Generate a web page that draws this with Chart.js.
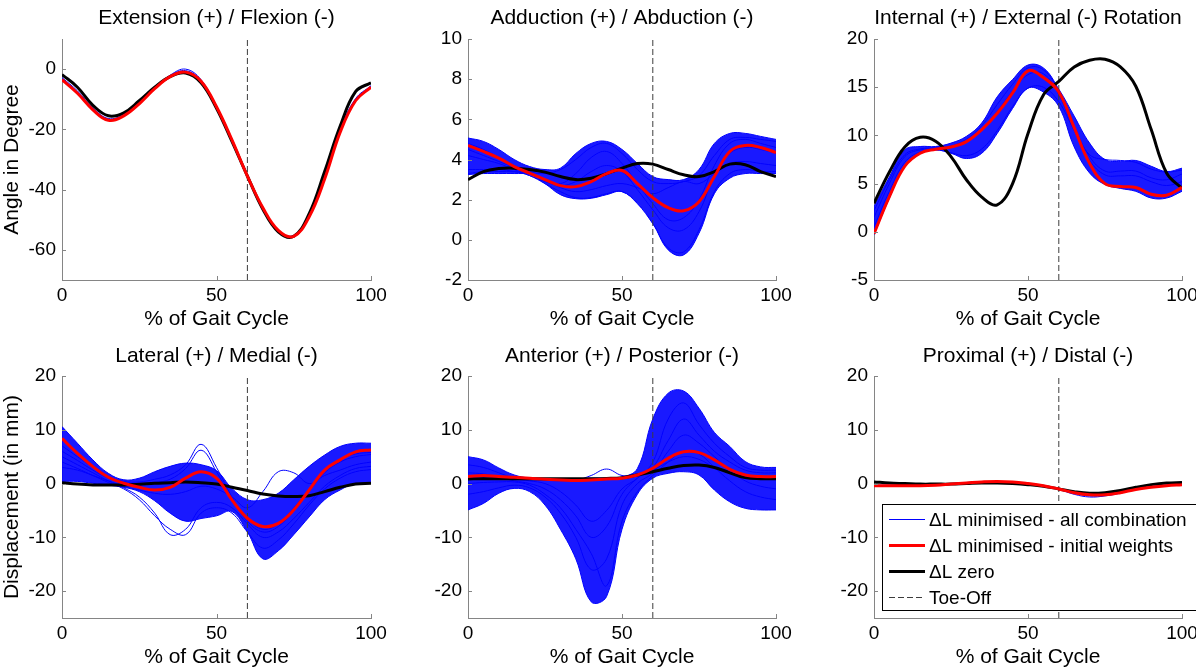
<!DOCTYPE html>
<html>
<head>
<meta charset="utf-8">
<script src="https://cdn.jsdelivr.net/npm/chart.js@4.4.0/dist/chart.umd.min.js"></script>
<style>
  html, body { margin: 0; padding: 0; background: #fff; overflow: hidden; width: 1196px; height: 671px; }
  canvas { position: absolute; }
</style>
</head>
<body>
<canvas id="c0"></canvas>
<canvas id="c1"></canvas>
<canvas id="c2"></canvas>
<canvas id="c3"></canvas>
<canvas id="c4"></canvas>
<canvas id="c5"></canvas>
<script>
// ---- data (every 5 % of gait cycle) ----
const gaitPct = [0,5,10,15,20,25,30,35,40,45,50,55,60,65,70,75,80,85,90,95,100];
const xTicks = [0, 50, 100];
const toeOff = 60;
const legendLabels = ['\u0394L minimised - all combination', '\u0394L minimised - initial weights', '\u0394L zero', 'Toe-Off'];

// Extension (+) / Flexion (-)
const extRed   = [-3.5,-8,-13.5,-17,-15.5,-11.5,-6.5,-2.5,-1,-4,-12.5,-23.5,-35.5,-46,-53.5,-55.5,-49,-36.5,-21,-10.5,-6];
const extBlack = [-1.8,-6,-12,-15.5,-14.5,-10.5,-6,-2.5,-1.3,-4.5,-13,-24,-35.5,-46.5,-54,-55.5,-48,-34,-19,-7.5,-4.5];
const extBlue  = [
  [-3.2,-7.6,-13,-16.6,-15.2,-11.2,-6.2,-2,0,-3.5,-12.5,-23.5,-35,-46,-53.5,-55.5,-49,-36,-20.5,-10,-5.8],
  [-2.8,-7.2,-12.8,-16.4,-15,-11,-6,-2.2,-0.5,-3.8,-12.8,-23.8,-35.3,-46.2,-53.8,-55.2,-48.5,-35.5,-20,-9.8,-5.5]
];
const extYRange = [-70, 10];
const extYTicks = [-60, -40, -20, 0];

// Adduction (+) / Abduction (-)
const addRed   = [4.7,4.4,4.07,3.65,3.32,3.0,2.7,2.65,2.9,3.3,3.45,2.8,2.1,1.6,1.45,1.9,3.15,4.4,4.7,4.6,4.35];
const addBlack = [3.0,3.4,3.55,3.57,3.5,3.37,3.15,3.0,3.07,3.3,3.57,3.8,3.77,3.5,3.24,3.15,3.4,3.77,3.74,3.4,3.15];
const addBandHi = [5.07,4.9,4.5,4.0,3.65,3.5,3.57,4.3,4.8,4.9,4.5,3.8,3.15,3.0,3.0,3.5,4.8,5.3,5.3,5.15,5.0];
const addBandLo = [3.25,3.3,3.3,3.3,3.25,2.8,2.25,2.05,2.07,2.25,2.4,1.83,0.83,-0.5,-0.75,0.33,2.3,3.07,3.3,3.3,3.3];
const addBlue = [
  [4.8,4.5,4.1,3.7,3.4,3.3,3.5,4.0,4.6,4.8,4.3,3.5,2.9,2.8,2.9,3.2,4.2,5.0,5.1,5.0,4.9],
  [3.5,3.5,3.5,3.4,3.2,2.8,2.4,2.1,2.1,2.3,2.4,1.8,0.8,-0.4,-0.6,0.5,2.4,3.3,3.5,3.4,3.4],
  [4.2,4.0,3.8,3.5,3.2,2.9,2.7,2.9,3.4,3.7,3.4,2.5,1.5,0.6,0.5,1.4,3.2,4.3,4.6,4.5,4.3],
  [4.5,4.2,3.9,3.6,3.3,3.0,2.8,3.3,4.1,4.4,3.8,2.8,1.8,1.0,1.1,2.0,3.7,4.8,5.0,4.8,4.6],
  [3.3,3.4,3.4,3.4,3.3,3.0,2.6,2.4,2.5,2.7,2.8,2.6,2.3,2.6,2.9,2.8,3.3,3.8,3.9,3.8,3.7]
];
const addYRange = [-2, 10];
const addYTicks = [-2, 0, 2, 4, 6, 8, 10];

// Internal (+) / External (-) Rotation
const rotRed   = [-0.2,3.65,6.8,8.15,8.56,8.8,9.35,10.6,12.3,14.4,16.7,16.0,14.5,10.8,7.1,5.0,4.7,4.6,3.9,3.8,4.6];
const rotBlack = [2.96,6.2,8.8,9.8,9.4,7.8,5.4,3.6,2.8,5.0,10.2,14.2,15.6,17.1,17.8,17.9,17.1,15.1,10.6,6.1,4.5];
const rotBandHi = [2.6,5.7,8.5,8.85,8.85,9.2,9.9,11.3,14.0,15.8,17.3,17.0,14.8,12.0,9.2,7.5,7.3,7.4,6.8,6.25,6.6];
const rotBandLo = [-0.3,3.5,6.8,8.1,8.5,8.15,7.6,8.15,10.2,12.8,14.9,14.5,13.0,8.8,6.1,4.9,4.5,4.2,3.5,3.5,4.2];
const rotBlue = [
  [0.5,4.2,7.2,8.3,8.5,8.2,7.9,8.6,10.5,13,14.9,15.0,13.5,10.5,8.0,7.5,7.4,7.2,6.5,6.2,6.4],
  [1.5,5.0,7.8,8.5,8.6,8.8,9.3,10.6,12.5,14.6,16.3,16.4,14.2,10.5,7.4,5.9,5.8,5.8,5.2,4.8,5.2],
  [2.2,5.4,8.0,8.6,8.7,8.9,9.6,11.0,13.2,15.3,17.0,16.8,14.6,11.0,7.8,6.3,6.3,6.3,5.6,5.4,6.0]
];
const rotYRange = [-5, 20];
const rotYTicks = [-5, 0, 5, 10, 15, 20];

// Lateral (+) / Medial (-)
const latRed   = [8.4,5.6,3.15,1.17,0.05,-0.7,-1.2,-0.7,1.0,2.2,1.0,-3.05,-6.45,-8.0,-7.4,-4.9,-1.2,2.5,4.4,5.9,6.25];
const latBlack = [0.17,-0.1,-0.26,-0.26,-0.26,-0.13,0.05,0.17,0.3,0.17,-0.07,-0.7,-1.3,-1.95,-2.3,-2.4,-2.25,-1.5,-0.7,-0.07,0.05];
const latBandHi = [10.6,7.5,4.4,1.9,0.7,1.0,2.2,3.2,3.8,3.5,2.4,-0.9,-3.0,-3.0,-1.8,0.7,3.2,5.3,6.9,7.5,7.5];
const latBandLo = [0.4,0.4,0.05,-0.3,-0.7,-1.5,-3.2,-5.5,-7.0,-6.5,-6.0,-5.2,-9.0,-14.0,-12.5,-9.5,-6.2,-3.0,-1.2,0.05,0.05];
const latBlue = [
  [7,5,3,1.3,0.4,0.3,0.8,1.6,3.5,7.3,3.0,-2.5,-6.5,-8.5,-7.5,-4.5,-1,2.5,4.5,5.5,5.8],
  [6,4.3,2.5,1.0,0.2,0,0.2,0.8,2.8,6.2,2.2,-3,-7,-9,-8,-5,-1.5,2,4,5,5.4],
  [5,3.5,2,0.5,-0.8,-2.5,-5.5,-9.5,-8.5,-4.5,-3.5,-4.5,-7.5,-10,-9,-6.5,-3.5,-0.5,1.5,2.8,3.2],
  [4,2.8,1.5,0.2,-1,-3,-6,-8.5,-9.5,-5.5,-4.5,-5.5,-9,-12,-10.5,-7.5,-4,-1,1,2.2,2.6],
  [3,2.5,1.5,0.5,-0.5,-1.2,-1.8,-2,-1.5,-0.5,-1,-2.5,-4.5,-1.5,2.2,2.0,0,1.5,2.5,3.5,4]
];
const dispYRange = [-25, 20];
const dispYTicks = [-20, -10, 0, 10, 20];

// Anterior (+) / Posterior (-)
const antRed   = [1.3,1.5,1.3,1.17,1.0,0.8,0.67,0.55,0.67,0.85,1.0,1.6,2.85,4.7,5.9,5.75,4.4,2.65,1.6,1.3,1.3];
const antBlack = [0.85,0.9,0.9,0.9,0.9,0.9,0.9,0.9,0.9,0.95,1.1,1.6,2.2,2.85,3.35,3.45,3.0,2.0,1.1,0.9,0.9];
const antBandHi = [5.0,4.4,2.9,1.6,1.0,0.8,0.7,0.7,1.0,1.0,1.2,2.8,12,16.8,17.2,14,9.5,6.9,4.1,3.1,3.0];
const antBandLo = [-4.9,-3.7,-1.8,-0.9,-1.5,-4,-8.5,-14,-22,-21,-8.5,-2,1.0,1.9,2.2,1.6,-1.2,-3.4,-4.6,-4.9,-4.9];
const antBlue = [
  [2,1.8,1.2,0.5,0,-1,-3,-6,-10,-8,-2,1,3,8,12,9,6,4,2.5,2,2],
  [-2,-1.5,-0.8,-0.3,-0.8,-2.5,-5.5,-10,-16,-14,-4,0,2,6,9,7.5,5,2.5,0.5,-0.5,-1],
  [3.5,3,2,1,0.5,0,-1.5,-4,-7,-5,-1,1,4,12,15,11,7.5,5,3,2.5,2.5],
  [0,0.2,0.3,0.3,-0.3,-2,-4.5,-8.5,-13,-19,-7,-1.5,1.5,4,6,5.5,3,0.5,-1.5,-2.5,-3],
  [1.5,1.5,1.2,1,0.8,0.6,0.5,0.6,1.5,2.7,1.5,1.5,2.5,4,5,4.5,3,2,1.5,1.2,1.2]
];

// Proximal (+) / Distal (-)
const proxRed   = [-0.4,-0.4,-0.4,-0.4,-0.3,-0.1,0.1,0.3,0.4,0.3,0,-0.4,-1.0,-1.7,-2.1,-2.1,-1.7,-1.1,-0.7,-0.4,-0.2];
const proxBlack = [0.3,0.1,0,-0.1,-0.1,-0.1,0,0.1,0.1,0,-0.2,-0.5,-1.0,-1.5,-1.8,-1.7,-1.3,-0.7,-0.2,0.1,0.2];
const proxBlue = [
  [-0.3,-0.3,-0.3,-0.3,-0.2,0,0.2,0.3,0.4,0.3,0,-0.5,-1.1,-2.0,-2.5,-2.3,-1.8,-1.1,-0.6,-0.3,-0.1],
  [-0.5,-0.5,-0.5,-0.4,-0.3,-0.1,0.1,0.3,0.3,0.2,-0.1,-0.5,-1.0,-1.8,-2.3,-2.2,-1.7,-1.0,-0.6,-0.3,-0.2]
];

// ---- panels ----
const panels = [
  { title: 'Extension (+) / Flexion (-)', yTitle: 'Angle in Degree', red: extRed, black: extBlack, blue: extBlue, yRange: extYRange, yTicks: extYTicks },
  { title: 'Adduction (+) / Abduction (-)', red: addRed, black: addBlack, blue: addBlue, bandHi: addBandHi, bandLo: addBandLo, yRange: addYRange, yTicks: addYTicks },
  { title: 'Internal (+) / External (-) Rotation', red: rotRed, black: rotBlack, blue: rotBlue, bandHi: rotBandHi, bandLo: rotBandLo, yRange: rotYRange, yTicks: rotYTicks },
  { title: 'Lateral (+) / Medial (-)', yTitle: 'Displacement (in mm)', red: latRed, black: latBlack, blue: latBlue, bandHi: latBandHi, bandLo: latBandLo, yRange: dispYRange, yTicks: dispYTicks },
  { title: 'Anterior (+) / Posterior (-)', red: antRed, black: antBlack, blue: antBlue, bandHi: antBandHi, bandLo: antBandLo, yRange: dispYRange, yTicks: dispYTicks },
  { title: 'Proximal (+) / Distal (-)', red: proxRed, black: proxBlack, blue: proxBlue, yRange: dispYRange, yTicks: dispYTicks, legend: true }
];

// canvas placement and wanted plot area (canvas coords)
const frames = [
  { left: 0,   top: 0,   w: 400, h: 335, l: 62, r: 371, t: 39, b: 280, titleY: 18.5, xTitleY: 319 },
  { left: 400, top: 0,   w: 400, h: 335, l: 68, r: 376, t: 39, b: 280, titleY: 18.5, xTitleY: 319 },
  { left: 796, top: 0,   w: 430, h: 335, l: 78, r: 386, t: 39, b: 280, titleY: 18.5, xTitleY: 319 },
  { left: 0,   top: 335, w: 400, h: 336, l: 62, r: 371, t: 41, b: 283, titleY: 21.2, xTitleY: 322 },
  { left: 400, top: 335, w: 400, h: 336, l: 68, r: 376, t: 41, b: 283, titleY: 21.2, xTitleY: 322 },
  { left: 796, top: 335, w: 430, h: 336, l: 78, r: 386, t: 41, b: 283, titleY: 21.2, xTitleY: 322 }
];

const FONT = "'Liberation Sans', Arial, Helvetica, sans-serif";
const axisGray = '#858585';
const blue = '#0000ff', red = '#ff0000', black = '#000000', dashGray = '#3c3c3c';
Chart.defaults.font.family = FONT;

function pts(vals) {
  return vals.map((v, i) => ({ x: gaitPct[i], y: v }));
}

function buildDatasets(p) {
  const sets = [];
  sets.push({ data: pts(p.red), borderColor: red, borderWidth: 3 });
  sets.push({ data: pts(p.black), borderColor: black, borderWidth: 3 });
  sets.push({ data: [{ x: toeOff, y: p.yRange[0] }, { x: toeOff, y: p.yRange[1] }],
              borderColor: dashGray, borderWidth: 1, borderDash: [6, 3], tension: 0 });
  p.blue.forEach(b => sets.push({ data: pts(b), borderColor: blue, borderWidth: 1 }));
  if (p.bandHi) {
    sets.push({ data: pts(p.bandHi), borderColor: blue, borderWidth: 1, fill: '+1', backgroundColor: 'rgba(0,0,255,0.9)' });
    sets.push({ data: pts(p.bandLo), borderColor: blue, borderWidth: 1 });
  }
  return sets;
}

// small inward tick marks like the original
const inwardTicks = {
  id: 'inwardTicks',
  afterDraw(chart) {
    const { ctx, chartArea: a, scales: { x, y } } = chart;
    ctx.save();
    ctx.strokeStyle = axisGray;
    ctx.lineWidth = 1;
    ctx.beginPath();
    x.ticks.forEach(t => {
      const px = Math.round(x.getPixelForValue(t.value)) + 0.5;
      ctx.moveTo(px, a.bottom); ctx.lineTo(px, a.bottom - 4);
    });
    y.ticks.forEach(t => {
      const py = Math.round(y.getPixelForValue(t.value)) + 0.5;
      ctx.moveTo(a.left, py); ctx.lineTo(a.left + 4, py);
    });
    ctx.stroke();
    ctx.restore();
  }
};

// legend box drawn inside the last panel
const legendBox = {
  id: 'legendBox',
  afterDraw(chart) {
    const ctx = chart.ctx;
    const styles = [
      { color: blue, width: 1, dash: [] },
      { color: red, width: 3, dash: [] },
      { color: black, width: 3, dash: [] },
      { color: dashGray, width: 1, dash: [6, 3] }
    ];
    ctx.save();
    ctx.fillStyle = '#fff';
    ctx.fillRect(86.5, 169.5, 330, 106);
    ctx.strokeStyle = '#000';
    ctx.lineWidth = 1;
    ctx.strokeRect(86.5, 169.5, 330, 106);
    ctx.font = '19px ' + FONT;
    ctx.textBaseline = 'middle';
    ctx.textAlign = 'left';
    legendLabels.forEach((label, i) => {
      const yy = 184 + i * 26;
      const s = styles[i];
      ctx.beginPath();
      ctx.strokeStyle = s.color;
      ctx.lineWidth = s.width;
      ctx.setLineDash(s.dash);
      ctx.moveTo(93, yy + 0.5); ctx.lineTo(129, yy + 0.5);
      ctx.stroke();
      ctx.setLineDash([]);
      ctx.fillStyle = '#000';
      ctx.fillText(label, 133, yy + 1.5);
    });
    ctx.restore();
  }
};

panels.forEach((p, i) => {
  const f = frames[i];
  const cv = document.getElementById('c' + i);
  cv.width = f.w; cv.height = f.h;
  cv.style.left = f.left + 'px'; cv.style.top = f.top + 'px';
  cv.style.width = f.w + 'px'; cv.style.height = f.h + 'px';

  const titlePadTop = f.titleY - 12.6;
  new Chart(cv, {
    type: 'line',
    data: { datasets: buildDatasets(p) },
    options: {
      responsive: false,
      animation: false,
      devicePixelRatio: 1,
      events: [],
      layout: { padding: { left: 0, right: f.w - f.r, top: 0, bottom: 0 } },
      elements: { point: { radius: 0 }, line: { tension: 0.4, fill: false } },
      plugins: {
        legend: { display: false },
        tooltip: { enabled: false },
        title: {
          display: true, text: p.title, fullSize: false, color: '#000',
          font: { size: 21, weight: 'normal', lineHeight: 1.2 },
          padding: { top: titlePadTop, bottom: f.t - 25.2 - titlePadTop }
        }
      },
      scales: {
        x: {
          type: 'linear', min: 0, max: 100,
          afterBuildTicks: s => { s.ticks = xTicks.map(v => ({ value: v })); },
          afterFit: s => { s.height = f.h - f.b; },
          ticks: { color: '#000', font: { size: 19 }, padding: 4.5, maxRotation: 0, autoSkip: false },
          grid: { drawOnChartArea: false, drawTicks: false },
          border: { color: axisGray, width: 1 },
          title: { display: true, text: '% of Gait Cycle', color: '#000', font: { size: 21 },
                   padding: { top: 0, bottom: f.h - f.xTitleY - 12.6 } }
        },
        y: {
          type: 'linear', min: p.yRange[0], max: p.yRange[1],
          afterBuildTicks: s => { s.ticks = p.yTicks.map(v => ({ value: v })); },
          afterFit: s => { s.width = f.l; },
          ticks: { color: '#000', font: { size: 19 }, padding: 6, autoSkip: false },
          grid: { drawOnChartArea: false, drawTicks: false },
          border: { color: axisGray, width: 1 },
          title: { display: !!p.yTitle, text: p.yTitle || '', color: '#000', font: { size: 21 },
                   padding: { top: 0, bottom: 0 } }
        }
      }
    },
    plugins: p.legend ? [inwardTicks, legendBox] : [inwardTicks]
  });
});
</script>
</body>
</html>
